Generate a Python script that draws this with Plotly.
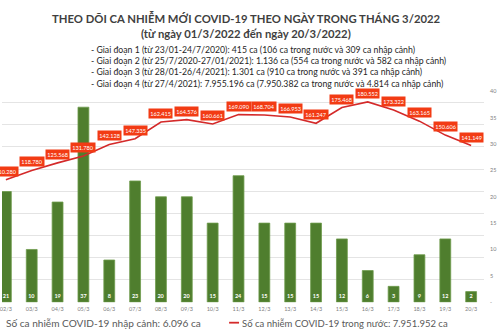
import plotly.graph_objects as go

dates = ["02/3", "03/3", "04/3", "05/3", "06/3", "07/3", "08/3", "09/3", "10/3", "11/3",
         "12/3", "13/3", "14/3", "15/3", "16/3", "17/3", "18/3", "19/3", "20/3"]
imported_cases = [21, 10, 19, 37, 8, 23, 20, 20, 15, 24, 15, 15, 15, 12, 6, 3, 9, 12, 2]
domestic_cases = [110280, 118780, 125568, 131780, 142128, 147335, 162415, 164576, 160661, 169090,
                  168704, 166953, 161247, 175468, 180552, 173322, 163165, 150606, 141149]

title_1 = "THEO DÕI CA NHIỄM MỚI COVID-19 THEO NGÀY TRONG THÁNG 3/2022"
title_2 = "(từ ngày 01/3/2022 đến ngày 20/3/2022)"
notes = [
    "- Giai đoạn 1 (từ 23/01-24/7/2020): 415 ca (106 ca trong nước và 309 ca nhập cảnh)",
    "- Giai đoạn 2 (từ 25/7/2020-27/01/2021): 1.136 ca (554 ca trong nước và 582 ca nhập cảnh)",
    "- Giai đoạn 3 (từ 28/01-26/4/2021): 1.301 ca (910 ca trong nước và 391 ca nhập cảnh)",
    "- Giai đoạn 4 (từ 27/4/2021): 7.955.196 ca (7.950.382 ca trong nước và 4.814 ca nhập cảnh)",
]
legend_bar = "Số ca nhiễm COVID-19 nhập cảnh: 6.096 ca"
legend_line = "Số ca nhiễm COVID-19 trong nước: 7.951.952 ca"
bar_ticks = [0, 5, 10, 15, 20, 25, 30, 35, 40]
bar_ticktext = ["-", "5", "10", "15", "20", "25", "30", "35", "40"]

W, H = 500, 336
def px(x):
    return x / W
def py(y):
    return 1 - y / H

GREEN = "#4f7e2e"
RED = "#d42a2a"
LABEL_BG = "#f23b14"

fig = go.Figure()
fig.add_trace(go.Bar(
    x=dates, y=imported_cases, yaxis="y", name=legend_bar,
    marker=dict(color=GREEN, line=dict(color="#6f9c4c", width=0.8)),
    width=0.42,
    text=[str(v) for v in imported_cases], textposition="inside", insidetextanchor="start",
    textfont=dict(color="white", size=5.5, family="Lato", weight="bold"),
    textangle=0, constraintext="none",
))
fig.add_trace(go.Scatter(
    x=dates, y=domestic_cases, yaxis="y2", mode="lines", name=legend_line,
    line=dict(color=RED, width=1.6),
))

annotations = []
for d, v in zip(dates, domestic_cases):
    annotations.append(dict(
        x=d, y=v, xref="x", yref="y2", text=f"{v:,}".replace(",", "."),
        showarrow=False, yshift=8.5, bgcolor=LABEL_BG, borderpad=1.2,
        font=dict(color="white", size=5.6, family="Lato"),
    ))

annotations.append(dict(x=px(245), y=py(15), xref="paper", yref="paper", text=f"<b>{title_1}</b>",
                        showarrow=False, xanchor="center", yanchor="middle",
                        font=dict(size=11.3, color="#3f3f3f", family="Lato")))
annotations.append(dict(x=px(245), y=py(31.5), xref="paper", yref="paper", text=f"<b>{title_2}</b>",
                        showarrow=False, xanchor="center", yanchor="middle",
                        font=dict(size=11.3, color="#3f3f3f", family="Lato")))
for i, t in enumerate(notes):
    annotations.append(dict(x=px(87), y=py(47 + i * 11.6), xref="paper", yref="paper", text=t,
                            showarrow=False, xanchor="left", yanchor="middle",
                            font=dict(size=8.7, color="#262626", family="Lato")))

annotations.append(dict(x=px(2), y=py(326), xref="paper", yref="paper", text=legend_bar,
                        showarrow=False, xanchor="left", yanchor="middle",
                        font=dict(size=10.1, color="#595959", family="Lato")))
annotations.append(dict(x=px(239), y=py(326), xref="paper", yref="paper", text=legend_line,
                        showarrow=False, xanchor="left", yanchor="middle",
                        font=dict(size=9.5, color="#595959", family="Lato")))

shapes = [dict(type="line", xref="paper", yref="paper", x0=px(228), x1=px(238), y0=py(325.5), y1=py(325.5),
               line=dict(color=RED, width=1.8))]

y_bottom, y_top = 304.6, 90
fig.update_layout(
    width=W, height=H, margin=dict(l=0, r=0, t=0, b=0),
    paper_bgcolor="white", plot_bgcolor="white",
    showlegend=False, bargap=0.58,
    xaxis=dict(domain=[0, 484 / W], type="category", range=[-0.15, 18.5],
               showgrid=False, showline=False, zeroline=False, ticks="",
               tickfont=dict(size=5.5, color="#808080", family="Lato"), ticklabelstandoff=2),
    yaxis=dict(domain=[py(y_bottom), py(y_top)], range=[0, 40], side="right",
               tickvals=bar_ticks, ticktext=bar_ticktext, showgrid=False, zeroline=False,
               tickfont=dict(size=5.5, color="#808080", family="Lato"), ticklabelstandoff=5),
    yaxis2=dict(overlaying="y", range=[0, 190000], side="left", dtick=20000,
                showgrid=True, gridcolor="#e4e4e4", gridwidth=1, zeroline=False,
                showticklabels=False),
    annotations=annotations, shapes=shapes,
)

fig.write_html("out.html")
